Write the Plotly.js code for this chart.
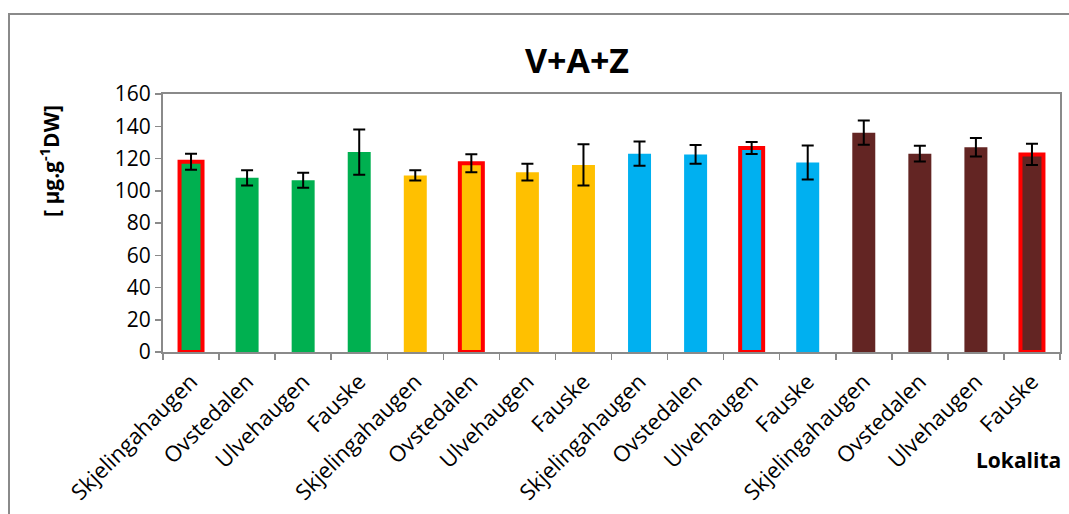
<!DOCTYPE html>
<html>
<head>
<meta charset="utf-8">
<script src="https://cdn.plot.ly/plotly-3.0.1.min.js"></script>
<style>
  html, body { margin: 0; padding: 0; background: #fff; overflow: hidden; }
  #wrap { position: relative; width: 1069px; height: 514px; overflow: hidden; }
  #chart { width: 1069px; height: 514px; }
  #frame { position: absolute; left: 8px; top: 13px; right: -10px; bottom: -10px;
           border-left: 2px solid #8a8a8a; border-top: 2px solid #8a8a8a; pointer-events: none; }
</style>
</head>
<body>
<div id="wrap"><div id="chart"></div><div id="frame"></div></div>
<script>
const labels = ['Skjelingahaugen','Ovstedalen','Ulvehaugen','Fauske',
                'Skjelingahaugen','Ovstedalen','Ulvehaugen','Fauske',
                'Skjelingahaugen','Ovstedalen','Ulvehaugen','Fauske',
                'Skjelingahaugen','Ovstedalen','Ulvehaugen','Fauske'];
const values = [118, 108, 106.5, 124, 109.5, 117, 111.5, 116,
                123, 122.5, 126.5, 117.5, 136, 123, 127, 122.5];
const errors = [5, 4.7, 4.7, 14, 3.2, 5.6, 5.2, 12.8,
                7.5, 5.8, 3.7, 10.5, 7.5, 4.9, 5.7, 6.6];
const groupColors = ['#00B050', '#FFC000', '#00B0F0', '#632523'];
const highlighted = [0, 5, 10, 15];
const yTicks = [0, 20, 40, 60, 80, 100, 120, 140, 160];

const xs = labels.map((_, i) => i);
const colors = labels.map((_, i) => groupColors[Math.floor(i / 4)]);
const lineW = labels.map((_, i) => highlighted.includes(i) ? 4 : 0);
const lineC = labels.map((_, i) => highlighted.includes(i) ? '#FF0000' : 'rgba(0,0,0,0)');
const bounds = [];
for (let i = 0; i <= labels.length; i++) bounds.push(i - 0.5);

const FONT = '"Open Sans", "Liberation Sans", sans-serif';
const axisColor = '#8a8a8a';

const trace = {
  type: 'bar', x: xs, y: values, width: 0.41,
  marker: { color: colors, line: { color: lineC, width: lineW } },
  error_y: { type: 'data', array: errors, visible: true, color: '#000', thickness: 2, width: 6 },
  hoverinfo: 'y'
};

const layout = {
  width: 1069, height: 514,
  margin: { l: 163, r: 9, t: 94, b: 162 },
  paper_bgcolor: '#fff', plot_bgcolor: '#fff',
  showlegend: false,
  font: { family: FONT, color: '#000' },
  title: {
    text: '<b>V+A+Z</b>', font: { family: FONT, size: 34, color: '#000' },
    xref: 'container', yref: 'container', x: 577 / 1069, y: 1 - 61 / 514,
    xanchor: 'center', yanchor: 'middle'
  },
  xaxis: {
    range: [-0.5, 15.5], tickvals: xs, ticktext: labels, tickangle: -45,
    ticks: '', showgrid: false, zeroline: false, ticklabelstandoff: 6,
    showline: true, linecolor: axisColor, linewidth: 2, mirror: true,
    tickfont: { family: FONT, size: 22, color: '#000' },
    minor: { tickvals: bounds, ticks: 'outside', ticklen: 6, tickcolor: axisColor, tickwidth: 1.5, showgrid: false }
  },
  yaxis: {
    range: [0, 160], tickvals: yTicks, ticks: 'outside', ticklen: 6, tickcolor: axisColor, tickwidth: 1.5,
    showgrid: false, zeroline: false,
    showline: true, linecolor: axisColor, linewidth: 2, mirror: true,
    tickfont: { family: FONT, size: 21, color: '#000' }
  },
  annotations: [
    { text: '<b>[ µg.g<sup>-1</sup>DW]</b>', xref: 'paper', yref: 'paper',
      x: (49 - 163) / 897, y: (352 - 161) / 258, textangle: -90, showarrow: false,
      xanchor: 'center', yanchor: 'middle', font: { family: FONT, size: 21, color: '#000' } },
    { text: '<b>Lokalita</b>', xref: 'paper', yref: 'paper',
      x: (1018 - 163) / 897, y: (352 - 460) / 258, showarrow: false,
      xanchor: 'center', yanchor: 'middle', font: { family: FONT, size: 21, color: '#000' } }
  ]
};

Plotly.newPlot('chart', [trace], layout, { displayModeBar: false, staticPlot: true });
</script>
</body>
</html>
